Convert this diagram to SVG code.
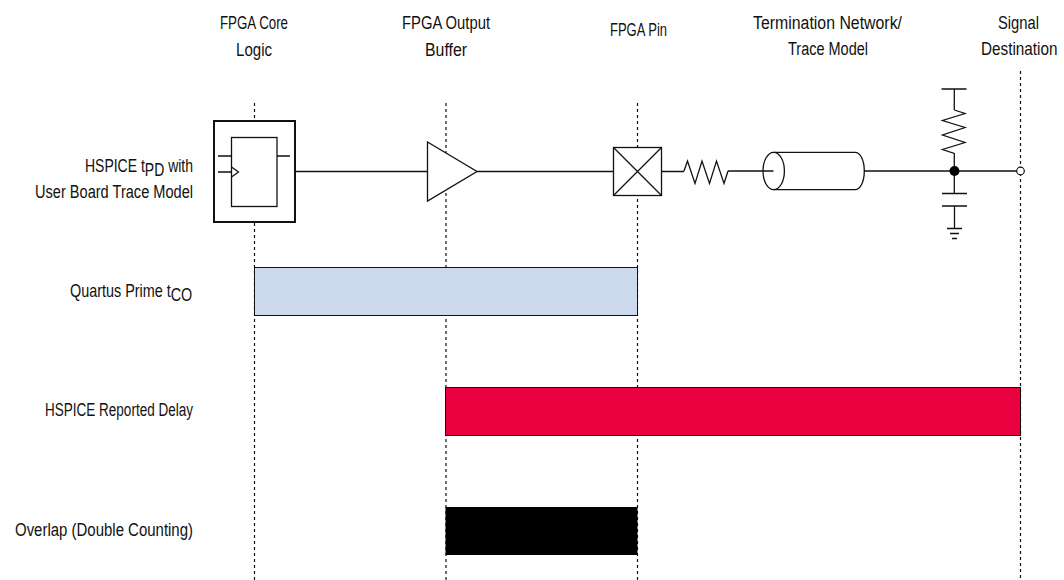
<svg xmlns="http://www.w3.org/2000/svg" width="1064" height="580" viewBox="0 0 1064 580">
<style>
text{font-family:"Liberation Sans",Arial,sans-serif;font-size:18px;fill:#111}
.l{fill:none;stroke:#111;stroke-width:1.3}
.d{fill:none;stroke:#111;stroke-width:1.2;stroke-dasharray:3 3}
.w{fill:#fff;stroke:#111;stroke-width:1.3}
</style>
<rect width="1064" height="580" fill="#fff"/>
<g id="guides">
<path class="d" d="M254.5 103V580M446 103V580M637.5 103V580M1020.5 71V580"/>
</g>
<g id="connectors">
<path class="l" d="M295 171.5H428M477 171.5H614M661 171.5H684M728 171H773.5M864 171H955M955 171H1020"/>
</g>
<g id="node-core-logic">
<rect x="214" y="121" width="81" height="101" fill="#fff" stroke="#111" stroke-width="2"/>
<rect class="w" x="231.5" y="137.5" width="45.5" height="69"/>
<path class="l" d="M218 156H231.5M277 156H290M218 172H231.5M231.5 167L238.5 172L231.5 177"/>
</g>
<g id="node-buffer">
<polygon class="w" points="427.5,142 477,171.5 427.5,201"/>
</g>
<g id="node-pin">
<rect class="w" x="613.5" y="147.5" width="48" height="48"/>
<path class="l" d="M613.5 147.5L661.5 195.5M661.5 147.5L613.5 195.5"/>
</g>
<g id="node-series-resistor">
<polyline class="l" points="684,171 687.5,161 695,183.5 702,161 709.5,183.5 716.5,161 724,183.5 728,171"/>
</g>
<g id="node-trace">
<path class="l" d="M773.7 152.3H855C860.5 152.3 864.3 160.5 864.3 171C864.3 181.5 860.5 189.7 855 189.7H773.7"/>
<ellipse class="l" cx="773.7" cy="171" rx="10.7" ry="18.7"/>
</g>
<g id="node-termination">
<path class="l" d="M941.5 89H966.5M954.3 89V110"/>
<polyline class="l" points="954.3,110 965,113.5 942.5,120.5 965,127.5 942.5,135 965,142.5 942.5,149.5 954.3,153.5 954.3,194"/>
<path class="l" d="M942 193.5H967M942 206H967M954.5 206V228M947 228.5H962M950 233.5H959M952 238.5H957"/>
<circle cx="954.5" cy="171" r="5" fill="#000"/>
</g>
<g id="node-destination">
<circle cx="1020.5" cy="171" r="3.8" fill="#fff" stroke="#111" stroke-width="1.2"/>
</g>
<g id="header-labels">
<text x="220" y="29" textLength="68" lengthAdjust="spacingAndGlyphs">FPGA Core</text>
<text x="236" y="56" textLength="36" lengthAdjust="spacingAndGlyphs">Logic</text>
<text x="402" y="29" textLength="88" lengthAdjust="spacingAndGlyphs">FPGA Output</text>
<text x="425" y="56" textLength="42" lengthAdjust="spacingAndGlyphs">Buffer</text>
<text x="610" y="36" textLength="57" lengthAdjust="spacingAndGlyphs">FPGA Pin</text>
<text x="753" y="29" textLength="149" lengthAdjust="spacingAndGlyphs">Termination Network/</text>
<text x="788" y="55" textLength="80" lengthAdjust="spacingAndGlyphs">Trace Model</text>
<text x="998" y="29" textLength="41" lengthAdjust="spacingAndGlyphs">Signal</text>
<text transform="translate(981,55) scale(.85,1)">Destination</text>
</g>
<g id="row-labels">
<text transform="translate(85,172) scale(.777,1)">HSPICE t<tspan dy="4">PD</tspan><tspan dy="-4"> with</tspan></text>
<text x="35" y="198" textLength="158" lengthAdjust="spacingAndGlyphs">User Board Trace Model</text>
<text transform="translate(70,297) scale(.8,1)">Quartus Prime t<tspan dy="4">CO</tspan></text>
<text x="45" y="416" textLength="148" lengthAdjust="spacingAndGlyphs">HSPICE Reported Delay</text>
<text x="15" y="536" textLength="178" lengthAdjust="spacingAndGlyphs">Overlap (Double Counting)</text>
</g>
<g id="bar-quartus"><rect x="254.5" y="267.5" width="383" height="48" fill="#cdd9ec" stroke="#111"/></g>
<g id="bar-hspice"><rect x="445.5" y="387.5" width="575" height="48" fill="#e8003f" stroke="#111"/></g>
<g id="bar-overlap"><rect x="445.5" y="507" width="192" height="48" fill="#000"/></g>
</svg>
